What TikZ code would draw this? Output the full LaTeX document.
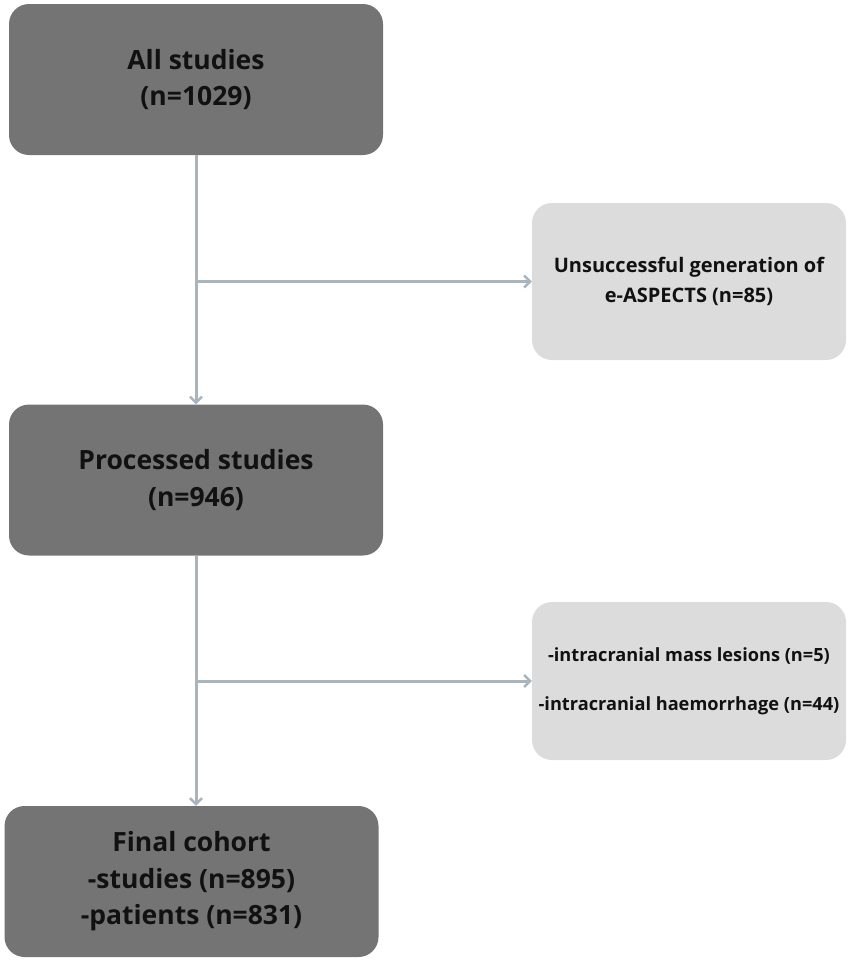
\documentclass[tikz,border=0pt]{standalone}
\usepackage{fontspec}
\setmainfont{Open Sans}
\usetikzlibrary{arrows.meta}

\begin{document}
\begin{tikzpicture}[x=1pt, y=-1pt,
    mainbox/.style={fill=darkbox, rounded corners=20pt, minimum width=374pt, minimum height=151pt,
      align=center, text=textdark, font=\fontsize{26.5}{36.5}\selectfont\bfseries},
    sidebox/.style={fill=lightbox, rounded corners=20pt, minimum width=314pt, minimum height=157pt,
      align=center, text=textdark, font=\fontsize{20}{30}\selectfont\bfseries},
    flow/.style={draw=linegray, line width=3pt, -{Straight Barb[length=6pt, width=12pt, line width=2.5pt]}}]
          \definecolor{darkbox}{HTML}{747474}
          \definecolor{lightbox}{HTML}{DCDCDC}
          \definecolor{linegray}{HTML}{A9B4BD}
          \definecolor{textdark}{HTML}{111111}
          \useasboundingbox (0, 0) rectangle (851, 962);
          \node[mainbox] (all) at (196, 79.5) {All studies\\(n=1029)};
          \node[mainbox] (processed) at (196, 480) {Processed studies\\(n=946)};
          \node[mainbox] (final) at (191.5, 881.5) {Final cohort\\-studies (n=895)\\-patients (n=831)};
          \node[sidebox] (failed) at (689, 281.5) {Unsuccessful generation of\\e-ASPECTS (n=85)};
          \node[sidebox, minimum height=158pt, inner sep=3pt, font=\fontsize{18.2}{49}\selectfont\bfseries] (excluded) at (689, 681)
            {-intracranial mass lesions (n=5)\\-intracranial haemorrhage (n=44)};
          \coordinate (split1) at (all.south |- failed.west);
          \coordinate (split2) at (processed.south |- excluded.west);
          \draw[flow] (all.south) -- (processed.north);
          \draw[flow] (split1) -- (failed.west);
          \draw[flow] (processed.south) -- (processed.south |- final.north);
          \draw[flow] (split2) -- (excluded.west);
    \end{tikzpicture}
\end{document}
